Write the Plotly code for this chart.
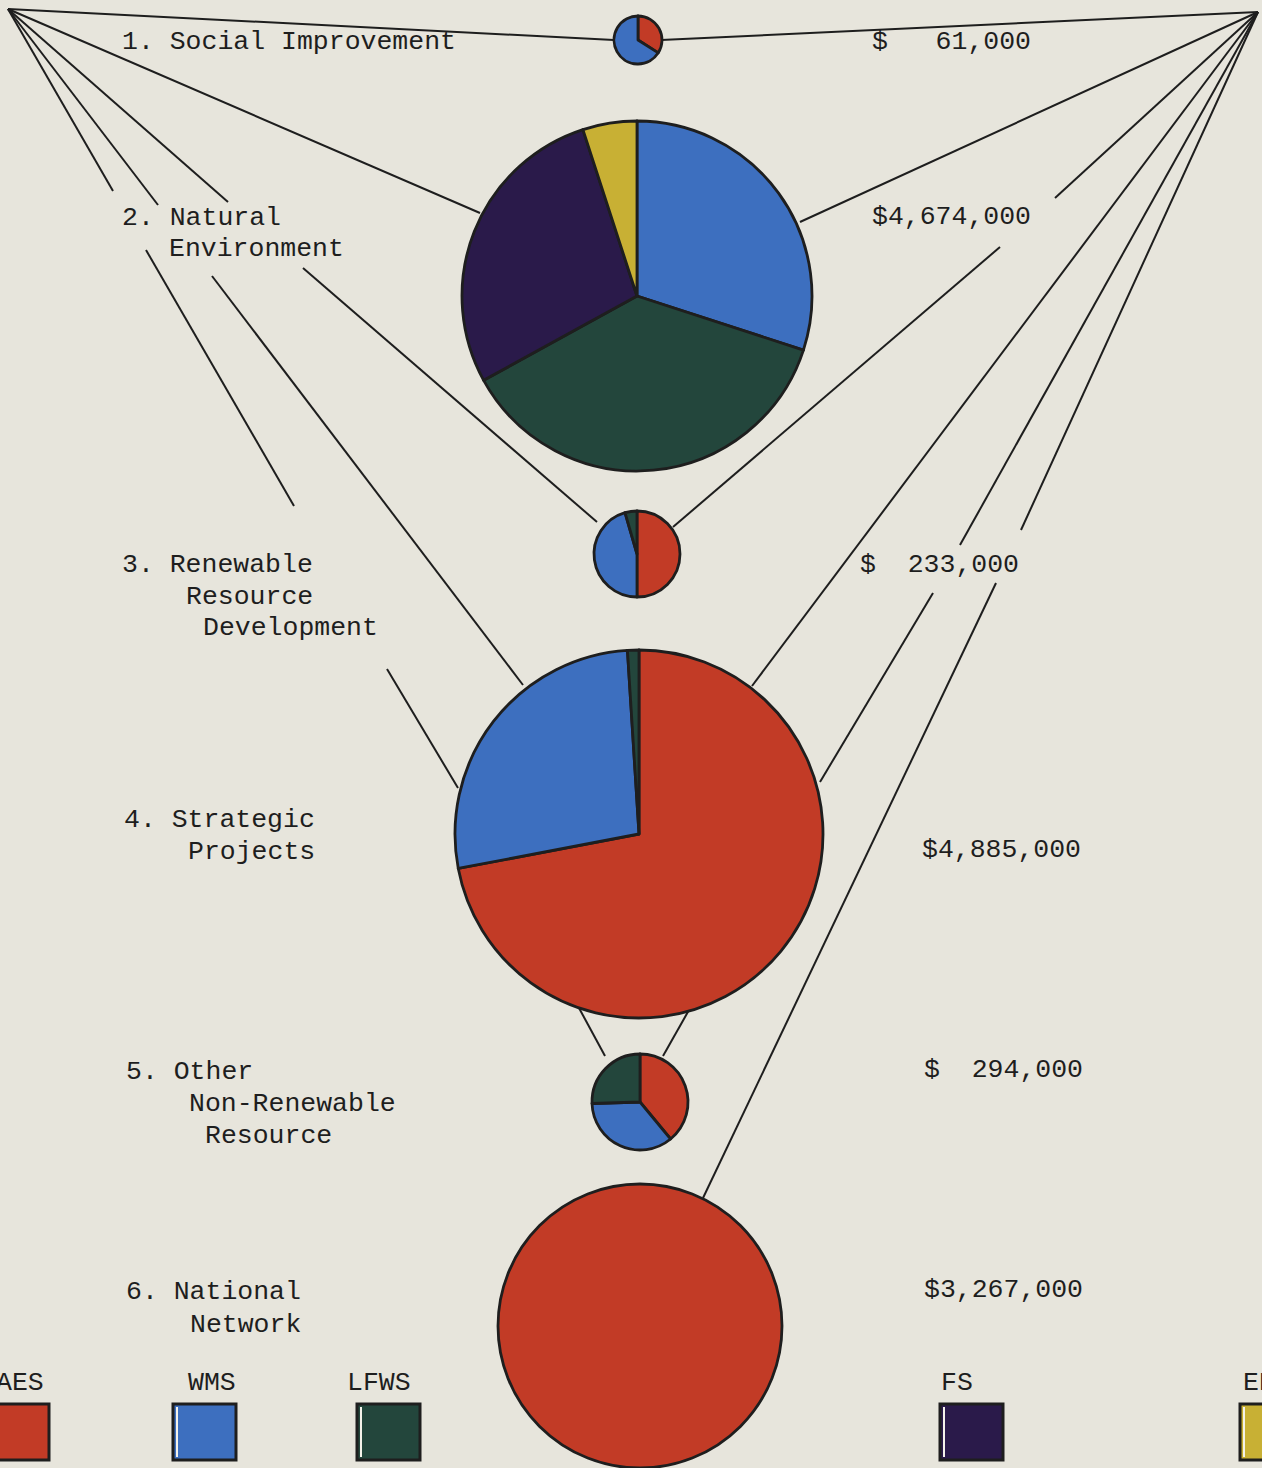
import plotly.graph_objects as go

# ---------------- data ----------------
agencies = ["AES", "WMS", "LFWS", "FS", "EPS"]
programs = ["1. Social Improvement", "2. Natural Environment",
            "3. Renewable Resource Development", "4. Strategic Projects",
            "5. Other Non-Renewable Resource", "6. National Network"]
totals = ["$   61,000", "$4,674,000", "$  233,000", "$4,885,000", "$  294,000", "$3,267,000"]
# share (%) of each program funded by AES, WMS, LFWS, FS, EPS
social_improvement = [34, 66, 0, 0, 0]
natural_environment = [0, 30, 37, 28, 5]
renewable_resource = [50, 45.5, 4.5, 0, 0]
strategic_projects = [72, 27, 1, 0, 0]
other_nonrenewable = [39, 35.5, 25.5, 0, 0]
national_network = [100, 0, 0, 0, 0]
shares = [social_improvement, natural_environment, renewable_resource,
          strategic_projects, other_nonrenewable, national_network]

# ---------------- style / layout ----------------
W, H = 1262, 1468
BG = "#e7e5dc"
INK = "#1e1e1e"
COLORS = ["#c23b26", "#3d6fbf", "#23463c", "#2a1a4a", "#c8b034"]
FONT = "Liberation Mono"
FS_ = 26.5

def px(x):
    return x / W

def py(y):
    return 1 - y / H

# pie placement (centre x, centre y, radius) in pixels
pie_geom = [(638, 40, 24), (637, 296, 175), (637, 554, 43),
            (639, 834, 184), (640, 1102, 48), (640, 1326, 142)]

fig = go.Figure()
for vals, (cx, cy, r), name in zip(shares, pie_geom, programs):
    keep = [i for i, v in enumerate(vals) if v > 0]
    fig.add_trace(go.Pie(
        labels=[agencies[i] for i in keep], values=[vals[i] for i in keep],
        name=name,
        sort=False, direction="clockwise", rotation=0,
        marker=dict(colors=[COLORS[i] for i in keep],
                    line=dict(color=INK, width=2.8)),
        textinfo="none", hoverinfo="label+percent+name",
        showlegend=False,
        domain=dict(x=[px(cx - r), px(cx + r)],
                    y=[max(0, py(cy + r)), py(cy - r)]),
    ))

# fan lines (segments, pixel coords)
TL = (8, 9)
TR = (1258, 12)
segments = [
    (TL, (614, 40)),
    (TL, (480, 213)),
    (TL, (228, 202)), ((303, 268), (597, 522)),
    (TL, (158, 205)), ((212, 276), (523, 685)),
    (TL, (113, 191)), ((146, 250), (294, 506)), ((387, 669), (458, 788)),
    ((579, 1008), (605, 1056)), ((689, 1010), (663, 1056)),
    (TR, (661, 40)),
    (TR, (800, 222)),
    (TR, (1055, 198)), ((1000, 247), (673, 527)),
    (TR, (752, 686)),
    (TR, (960, 545)), ((933, 593), (820, 782)),
    (TR, (1021, 530)), ((996, 583), (703, 1198)),
]
shapes = []
for (x0, y0), (x1, y1) in segments:
    shapes.append(dict(type="line", xref="paper", yref="paper",
                       x0=px(x0), y0=py(y0), x1=px(x1), y1=py(y1),
                       line=dict(color=INK, width=2), layer="below"))

annotations = []

def txt(s, x, y, anchor="left"):
    annotations.append(dict(text=s.replace(" ", "\u00a0"), x=px(x), y=py(y),
                            xref="paper", yref="paper", xanchor=anchor,
                            yanchor="middle", showarrow=False,
                            font=dict(family=FONT, size=FS_, color=INK)))

# program labels (wrapped as in original)
label_lines = [
    [("1. Social Improvement", 120, 42)],
    [("2. Natural", 120, 218), ("Environment", 167, 249)],
    [("3. Renewable", 120, 565), ("Resource", 184, 597), ("Development", 201, 628)],
    [("4. Strategic", 122, 820), ("Projects", 186, 852)],
    [("5. Other", 124, 1072), ("Non-Renewable", 187, 1104), ("Resource", 203, 1136)],
    [("6. National", 124, 1292), ("Network", 188, 1325)],
]
for lines in label_lines:
    for s, x, y in lines:
        txt(s, x, y)

total_pos = [(870, 42), (870, 217), (858, 565), (920, 850), (922, 1070), (922, 1290)]
for s, (x, y) in zip(totals, total_pos):
    txt(s, x, y)

# legend swatches
legend_pos = [(-14, 20), (173, 212), (357, 379), (940, 957), (1240, 1267)]
for name, col, (x0, lx) in zip(agencies, COLORS, legend_pos):
    shapes.append(dict(type="rect", xref="paper", yref="paper",
                       x0=px(x0), x1=px(x0 + 63), y0=py(1460), y1=py(1404),
                       fillcolor=col, line=dict(color=INK, width=3)))
    if name != "AES":
        shapes.append(dict(type="line", xref="paper", yref="paper",
                           x0=px(x0 + 4), x1=px(x0 + 4), y0=py(1457), y1=py(1407),
                           line=dict(color="#f4f2ea", width=2)))
    txt(name, lx, 1383, anchor="center")

fig.update_layout(
    width=W, height=H,
    margin=dict(l=0, r=0, t=0, b=0),
    paper_bgcolor=BG, plot_bgcolor=BG,
    shapes=shapes, annotations=annotations,
    showlegend=False,
)
fig.write_html("out.html",
               config={"displayModeBar": False},
               post_script="document.body.style.margin='0';"
                           "document.body.style.background='" + BG + "';")
